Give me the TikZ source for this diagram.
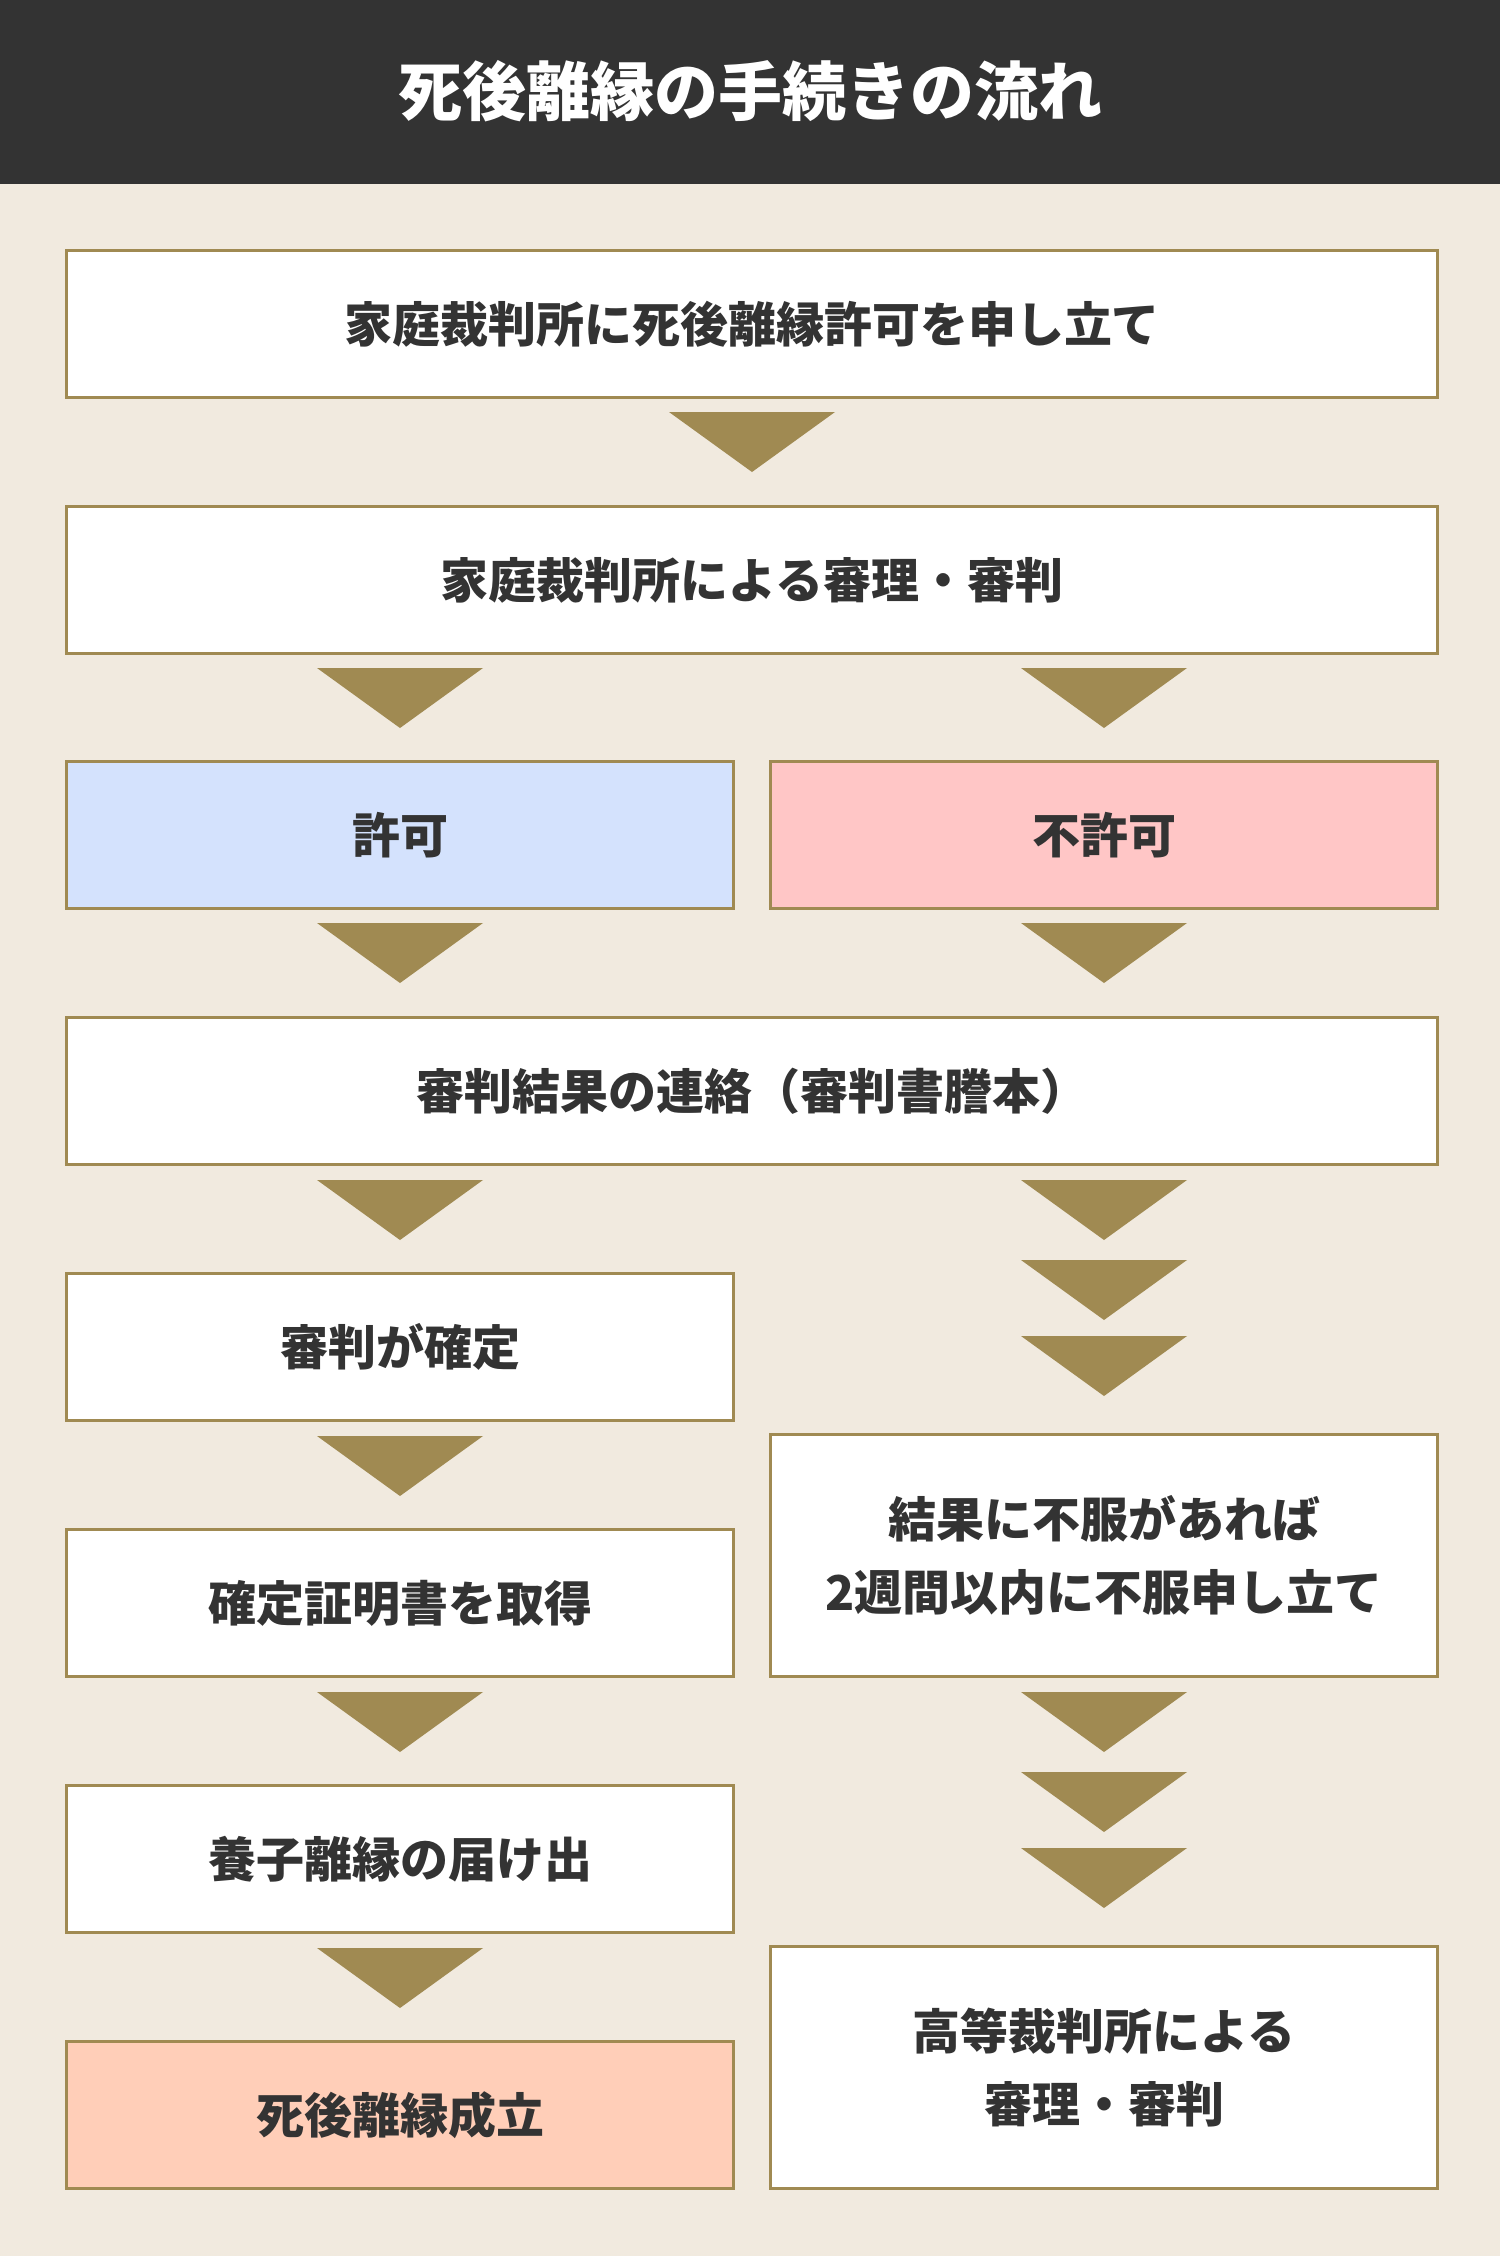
\documentclass[tikz,border=0pt]{standalone}
\usepackage{fontspec}
\setmainfont{Noto Sans CJK JP}
\definecolor{bgc}{HTML}{F1EADF}
\definecolor{headc}{HTML}{333333}
\definecolor{goldc}{HTML}{A08A52}
\definecolor{txtc}{HTML}{333333}
\definecolor{bluec}{HTML}{D4E2FD}
\definecolor{pinkc}{HTML}{FFC6C6}
\definecolor{peachc}{HTML}{FFCEB8}
\newcommand\downtri[2]{\fill[goldc] (#1-83,#2) -- (#1+83,#2) -- (#1,#2+60) -- cycle;}
\begin{document}
\begin{tikzpicture}[x=0.5pt,y=-0.5pt,
  boxbase/.style={draw=goldc,line width=1.6pt,fill=white,text=txtc,inner sep=0pt,
    align=center,font=\fontsize{24}{36.5}\selectfont\bfseries,minimum height=73.5pt},
  fullbox/.style={boxbase,minimum width=685.5pt},
  halfbox/.style={boxbase,minimum width=333.5pt},
  tallbox/.style={halfbox,minimum height=121pt}]
\fill[bgc] (0,0) rectangle (1500,2256);
\useasboundingbox (0,0) rectangle (1500,2256);
\fill[headc] (0,0) rectangle (1500,184);
\node[text=white,font=\fontsize{32}{36}\selectfont\bfseries] (title) at (750,91) {死後離縁の手続きの流れ};
\node[fullbox] (b1) at (752,324) {家庭裁判所に死後離縁許可を申し立て};
\node[fullbox] (b2) at (752,580) {家庭裁判所による審理・審判};
\node[halfbox,fill=bluec] (kyoka) at (400,835) {許可};
\node[halfbox,fill=pinkc] (fukyoka) at (1104,835) {不許可};
\node[fullbox] (b4) at (752,1091) {審判結果の連絡（審判書謄本）};
\node[halfbox] (kakutei) at (400,1347) {審判が確定};
\node[halfbox] (shomei) at (400,1603) {確定証明書を取得};
\node[tallbox] (fufuku) at (1104,1555.5) {結果に不服があれば\\2週間以内に不服申し立て};
\node[halfbox] (todoke) at (400,1859) {養子離縁の届け出};
\node[halfbox,fill=peachc] (seiritsu) at (400,2115) {死後離縁成立};
\node[tallbox] (koto) at (1104,2067.5) {高等裁判所による\\審理・審判};
\downtri{752}{412}
\downtri{400}{668}
\downtri{1104}{668}
\downtri{400}{923}
\downtri{1104}{923}
\downtri{400}{1180}
\downtri{1104}{1180}
\downtri{1104}{1260}
\downtri{1104}{1336}
\downtri{400}{1436}
\downtri{400}{1692}
\downtri{1104}{1692}
\downtri{1104}{1772}
\downtri{1104}{1848}
\downtri{400}{1948}
\end{tikzpicture}
\end{document}
